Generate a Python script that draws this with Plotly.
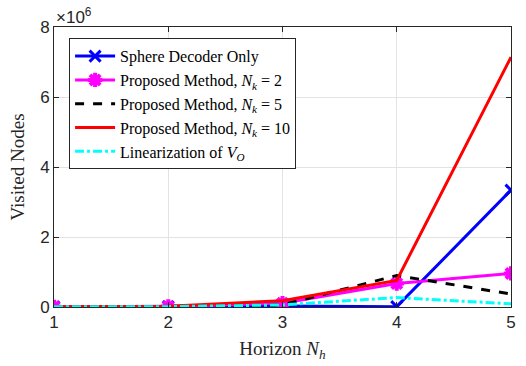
import plotly.graph_objects as go

horizon = [1, 2, 3, 4, 5]
sphere = [0.005e6, 0.01e6, 0.03e6, 0.01e6, 3.34e6]
prop_n2 = [0.005e6, 0.015e6, 0.11e6, 0.67e6, 0.96e6]
prop_n5 = [0.005e6, 0.015e6, 0.06e6, 0.90e6, 0.37e6]
prop_n10 = [0.005e6, 0.02e6, 0.18e6, 0.76e6, 7.14e6]
linear_vo = [0.005e6, 0.01e6, 0.06e6, 0.27e6, 0.09e6]

y_ticks = [0, 2e6, 4e6, 6e6, 8e6]
y_ticktext = ["0", "2", "4", "6", "8"]
x_ticks = [1, 2, 3, 4, 5]

serif = "Liberation Serif, Times New Roman, serif"
sans = "Liberation Sans, Arial, sans-serif"

fig = go.Figure()
fig.add_trace(go.Scatter(x=horizon, y=sphere, mode="lines+markers",
    name="Sphere Decoder Only",
    line=dict(color="#0000ff", width=3),
    marker=dict(symbol="x-thin-open", size=11, line=dict(color="#0000ff", width=3))))
fig.add_trace(go.Scatter(x=horizon, y=prop_n2, mode="lines+markers",
    name="Proposed Method, <i>N</i><sub><i>k</i></sub> = 2",
    line=dict(color="#ff00ff", width=3),
    marker=dict(symbol="asterisk-open", size=12, line=dict(color="#ff00ff", width=4))))
fig.add_trace(go.Scatter(x=horizon, y=prop_n5, mode="lines",
    name="Proposed Method, <i>N</i><sub><i>k</i></sub> = 5",
    line=dict(color="#000000", width=3, dash="dash")))
fig.add_trace(go.Scatter(x=horizon, y=prop_n10, mode="lines",
    name="Proposed Method, <i>N</i><sub><i>k</i></sub> = 10",
    line=dict(color="#ff0000", width=3)))
fig.add_trace(go.Scatter(x=horizon, y=linear_vo, mode="lines",
    name="Linearization of <i>V</i><sub><i>O</i></sub>",
    line=dict(color="#00ffff", width=3, dash="dashdot")))

axis_common = dict(showline=True, linecolor="#262626", linewidth=1, mirror="ticks",
                   showgrid=True, gridcolor="#e3e3e3", gridwidth=1, zeroline=False,
                   ticks="inside", ticklen=5, tickcolor="#262626",
                   tickfont=dict(family=sans, size=17, color="#262626"))

fig.update_layout(
    width=526, height=366,
    margin=dict(l=54, r=10, t=27, b=59),
    plot_bgcolor="white", paper_bgcolor="white",
    xaxis=dict(range=[1, 5], tickvals=x_ticks,
               title=dict(text="Horizon <i>N</i><sub><i>h</i></sub>", font=dict(family=serif, size=19, color="#262626"), standoff=10),
               **axis_common),
    yaxis=dict(range=[0, 8e6], tickvals=y_ticks, ticktext=y_ticktext,
               title=dict(text="Visited Nodes", font=dict(family=serif, size=19, color="#262626"), standoff=10),
               **axis_common),
    legend=dict(x=0.033, y=0.96, xanchor="left", yanchor="top",
                bgcolor="white", bordercolor="#262626", borderwidth=1,
                font=dict(family=serif, size=16, color="#000000"),
                tracegroupgap=0, itemwidth=40),
    showlegend=True,
    annotations=[dict(text="×10<sup>6</sup>", x=0, y=1, xref="paper", yref="paper",
                      xanchor="left", yanchor="bottom", showarrow=False, yshift=-2,
                      font=dict(family=sans, size=17, color="#262626"))],
)

fig.write_html("out.html")
